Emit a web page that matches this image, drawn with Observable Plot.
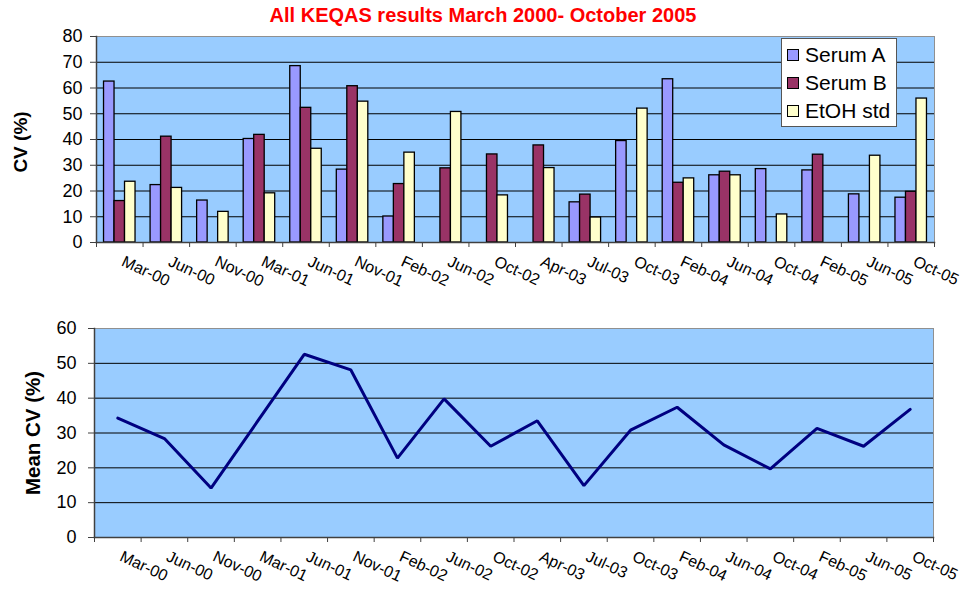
<!DOCTYPE html>
<html>
<head>
<meta charset="utf-8">
<script src="https://cdn.jsdelivr.net/npm/d3@7"></script>
<script src="https://cdn.jsdelivr.net/npm/@observablehq/plot@0.6"></script>
<style>
  body { margin: 0; background: #fff; font-family: "Liberation Sans", Arial, sans-serif; }
  #wrap { position: relative; width: 960px; height: 597px; overflow: hidden; }
  #title { position: absolute; left: 6px; top: 3px; width: 954px; text-align: center; color: #ff0000; font-weight: bold; font-size: 20px; line-height: 24px; }
  #topChart { position: absolute; left: 0; top: 22px; }
  #bottomChart { position: absolute; left: 0; top: 300px; }
  .ylab { position: absolute; font-weight: bold; white-space: nowrap; transform: translate(-50%, -50%) rotate(-90deg); }
  #legend { position: absolute; left: 781px; top: 38px; width: 116px; height: 89px; background: #fff; border: 1px solid #555; box-sizing: border-box; }
  .lrow { position: absolute; left: 5px; font-size: 21px; line-height: 22px; white-space: nowrap; }
  .sw { display: inline-block; width: 10px; height: 10px; border: 1px solid #000; margin-right: 6px; vertical-align: 1px; }
</style>
</head>
<body>
<div id="wrap">
  <div id="title">All KEQAS results March 2000- October 2005</div>
  <div id="topChart"></div>
  <div id="bottomChart"></div>
  <div class="ylab" style="left:21px; top:142px; font-size:19px;">CV (%)</div>
  <div class="ylab" style="left:33px; top:433px; font-size:20.5px;">Mean CV (%)</div>
  <div id="legend"></div>
</div>
<script>
const categories = ["Mar-00","Jun-00","Nov-00","Mar-01","Jun-01","Nov-01","Feb-02","Jun-02","Oct-02","Apr-03","Jul-03","Oct-03","Feb-04","Jun-04","Oct-04","Feb-05","Jun-05","Oct-05"];
const seriesNames = ["Serum A","Serum B","EtOH std"];
const seriesColors = ["#9999ff","#993366","#ffffcc"];
const serumA = [62.5,22.3,16.3,40.2,68.5,28.3,10.1,null,null,null,15.6,39.4,63.4,26.1,28.5,28.0,18.7,17.4];
const serumB = [16.1,41.1,null,41.8,52.3,60.7,22.7,28.8,34.2,37.7,18.6,null,23.2,27.5,null,34.1,null,19.7];
const etohStd = [23.6,21.2,11.9,19.1,36.4,54.7,34.9,50.7,18.3,28.9,9.7,52.0,24.9,26.1,10.9,null,33.7,55.9];
const meanCV = [34.3,28.4,14.2,33.4,52.6,48.1,22.8,39.8,26.2,33.5,14.9,30.8,37.4,26.6,19.7,31.3,26.2,36.8];
const cvTicks = [0,10,20,30,40,50,60,70,80];
const meanTicks = [0,10,20,30,40,50,60];

const font = '"Liberation Sans", Arial, sans-serif';
const W = 960;
const seriesValues = [serumA, serumB, etohStd];

// ---------- top chart ----------
const mL1 = 96, mR1 = 26;
const bw1 = (W - mL1 - mR1) / categories.length;
const barW = 10.5;
const rows = categories.flatMap((c, i) => seriesNames.map((s, k) => ({category: c, series: s, k, value: seriesValues[k][i]})))
  .filter(d => d.value != null);

const bars = seriesNames.map((s, k) => Plot.barY(rows.filter(d => d.k === k), {
  x: "category", y: "value", fill: seriesColors[k], stroke: "#000", strokeWidth: 1.3,
  insetLeft: (bw1 - barW) / 2, insetRight: (bw1 - barW) / 2, dx: (k - 1) * barW
}));

const topPlot = Plot.plot({
  width: W, height: 280, marginLeft: mL1, marginRight: mR1, marginTop: 14, marginBottom: 60,
  style: {fontFamily: font, fontSize: "18px", color: "#000", background: "transparent", overflow: "visible"},
  x: {type: "band", domain: categories, padding: 0, round: false, axis: null},
  y: {domain: [0, 80], axis: null},
  marks: [
    Plot.frame({fill: "#99ccff", stroke: "#909090"}),
    Plot.ruleY(cvTicks.filter(t => t > 0 && t < 80), {stroke: "#000", strokeWidth: 1}),
    ...bars,
    Plot.frame({anchor: "left", stroke: "#404040", strokeWidth: 1.5}),
    Plot.frame({anchor: "bottom", stroke: "#404040", strokeWidth: 1.5}),
    Plot.axisY({ticks: cvTicks, tickSize: 6, tickPadding: 8, fontSize: 18, label: null, stroke: "#404040"}),
    Plot.axisX({tickSize: 5, tickFormat: () => "", dx: -bw1 / 2, label: null, stroke: "#404040"}),
    Plot.axisX({ticks: [categories[categories.length - 1]], tickSize: 5, tickFormat: () => "", dx: bw1 / 2, label: null, stroke: "#404040"}),
    Plot.axisX({tickSize: 0, tickPadding: 18, tickRotate: 25, textAnchor: "start", fontSize: 16, dx: 3, label: null})
  ]
});
document.getElementById("topChart").appendChild(topPlot);

// ---------- bottom chart ----------
const mL2 = 94, mR2 = 27;
const bw2 = (W - mL2 - mR2) / categories.length;
const meanRows = categories.map((c, i) => ({category: c, value: meanCV[i]}));

const bottomPlot = Plot.plot({
  width: W, height: 297, marginLeft: mL2, marginRight: mR2, marginTop: 28, marginBottom: 60,
  style: {fontFamily: font, fontSize: "18px", color: "#000", background: "transparent", overflow: "visible"},
  x: {type: "band", domain: categories, padding: 0, round: false, axis: null},
  y: {domain: [0, 60], axis: null},
  marks: [
    Plot.frame({fill: "#99ccff", stroke: "#909090"}),
    Plot.ruleY(meanTicks.filter(t => t > 0 && t < 60), {stroke: "#000", strokeWidth: 1}),
    Plot.line(meanRows, {x: "category", y: "value", stroke: "#000080", strokeWidth: 3, strokeLinejoin: "miter"}),
    Plot.frame({anchor: "left", stroke: "#404040", strokeWidth: 1.5}),
    Plot.frame({anchor: "bottom", stroke: "#404040", strokeWidth: 1.5}),
    Plot.axisY({ticks: meanTicks, tickSize: 6, tickPadding: 12, fontSize: 18, label: null, stroke: "#404040"}),
    Plot.axisX({tickSize: 5, tickFormat: () => "", dx: -bw2 / 2, label: null, stroke: "#404040"}),
    Plot.axisX({ticks: [categories[categories.length - 1]], tickSize: 5, tickFormat: () => "", dx: bw2 / 2, label: null, stroke: "#404040"}),
    Plot.axisX({tickSize: 0, tickPadding: 18, tickRotate: 25, textAnchor: "start", fontSize: 16, dx: 3, label: null})
  ]
});
document.getElementById("bottomChart").appendChild(bottomPlot);

// ---------- legend ----------
const legend = document.getElementById("legend");
const rowTops = [5, 33, 61];
seriesNames.forEach((s, k) => {
  const r = document.createElement("div");
  r.className = "lrow";
  r.style.top = rowTops[k] + "px";
  r.innerHTML = `<span class="sw" style="background:${seriesColors[k]}"></span>${s}`;
  legend.appendChild(r);
});
</script>
</body>
</html>
